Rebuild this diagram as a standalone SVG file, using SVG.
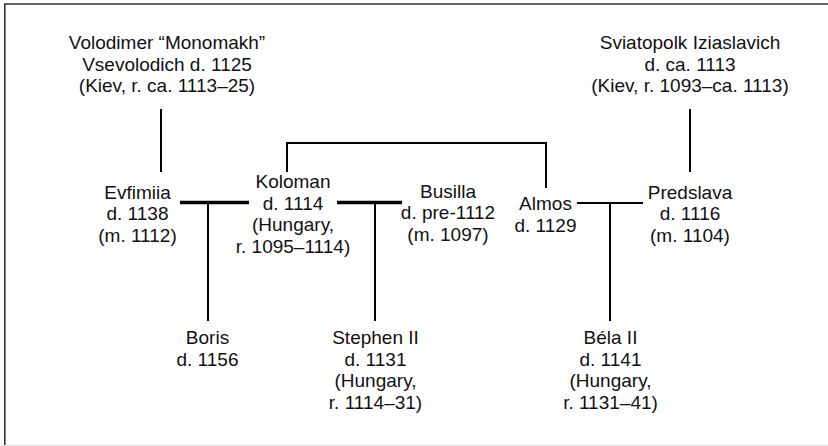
<svg xmlns="http://www.w3.org/2000/svg" width="828" height="446" viewBox="0 0 828 446">
<style>
text{font-family:"Liberation Sans",Arial,sans-serif;font-size:19px;fill:#111;text-anchor:middle}
.c line,.c polyline{stroke:#000;fill:none;stroke-width:2}
.c .m{stroke-width:3.5}
</style>
<rect x="0" y="0" width="828" height="446" fill="#fff"/>
<line x1="0" y1="445.5" x2="828" y2="445.5" stroke="#e6e6e6" stroke-width="1"/>
<line x1="4" y1="4" x2="828" y2="4" stroke="#333" stroke-width="1.6"/>
<line x1="4.8" y1="4" x2="4.8" y2="445" stroke="#333" stroke-width="1.6"/>
<g class="c" id="connectors">
<line x1="161" y1="109" x2="161" y2="172"/>
<line x1="690" y1="109" x2="690" y2="172"/>
<polyline points="287,172 287,143 546,143 546,188"/>
<line class="m" x1="180" y1="202.5" x2="249" y2="202.5"/>
<line class="m" x1="337" y1="202.5" x2="402" y2="202.5"/>
<line x1="577" y1="203" x2="643" y2="203"/>
<line x1="208" y1="202.5" x2="208" y2="321"/>
<line x1="375" y1="202.5" x2="375" y2="321"/>
<line x1="610" y1="203" x2="610" y2="321"/>
</g>
<g id="volodimer"><text x="167" y="49">Volodimer “Monomakh”</text><text x="167" y="70.5">Vsevolodich d. 1125</text><text x="167" y="92">(Kiev, r. ca. 1113–25)</text></g>
<g id="sviatopolk"><text x="690" y="49">Sviatopolk Iziaslavich</text><text x="690" y="70.5">d. ca. 1113</text><text x="690" y="92">(Kiev, r. 1093–ca. 1113)</text></g>
<g id="evfimiia"><text x="137.5" y="198.5">Evfimiia</text><text x="137.5" y="220">d. 1138</text><text x="137.5" y="241.5">(m. 1112)</text></g>
<g id="koloman"><text x="293" y="188">Koloman</text><text x="293" y="209.5">d. 1114</text><text x="293" y="231">(Hungary,</text><text x="293" y="252.5">r. 1095–1114)</text></g>
<g id="busilla"><text x="448" y="197.5">Busilla</text><text x="448" y="219">d. pre-1112</text><text x="448" y="240.5">(m. 1097)</text></g>
<g id="almos"><text x="545.5" y="210">Almos</text><text x="545.5" y="231.5">d. 1129</text></g>
<g id="predslava"><text x="690" y="198.5">Predslava</text><text x="690" y="220">d. 1116</text><text x="690" y="241.5">(m. 1104)</text></g>
<g id="boris"><text x="207.5" y="344">Boris</text><text x="207.5" y="365.5">d. 1156</text></g>
<g id="stephen"><text x="375.5" y="344">Stephen II</text><text x="375.5" y="365.5">d. 1131</text><text x="375.5" y="387">(Hungary,</text><text x="375.5" y="408.5">r. 1114–31)</text></g>
<g id="bela"><text x="610.5" y="344">Béla II</text><text x="610.5" y="365.5">d. 1141</text><text x="610.5" y="387">(Hungary,</text><text x="610.5" y="408.5">r. 1131–41)</text></g>
</svg>
